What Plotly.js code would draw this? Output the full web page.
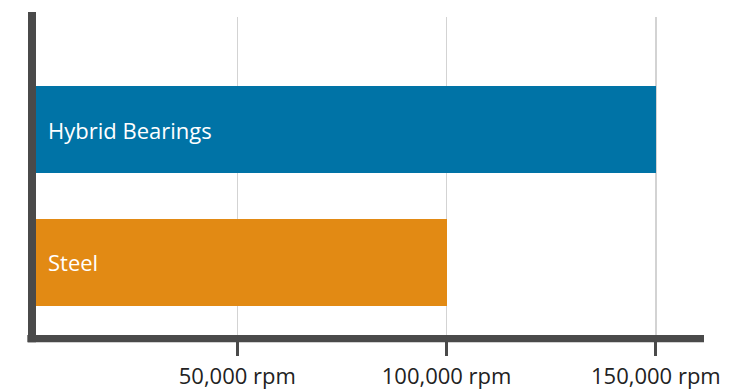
<!DOCTYPE html>
<html>
<head>
<meta charset="utf-8">
<script src="https://cdn.plot.ly/plotly-3.0.1.min.js"></script>
<style>
html,body{margin:0;padding:0;background:#fff;}
#chart{width:741px;height:390px;}
</style>
</head>
<body>
<div id="chart"></div>
<script>
// Data
const categories = ['Hybrid Bearings', 'Steel'];
const speeds = [150000, 100000];
const barColors = ['#0073A6', '#E28A14'];
const tickValues = [50000, 100000, 150000];
const tickLabels = ['50,000 rpm', '100,000 rpm', '150,000 rpm'];

const axisColor = '#4a4a4a';
const fontFamily = '"Open Sans", Lato, sans-serif';

const trace = {
  type: 'bar',
  orientation: 'h',
  x: speeds,
  y: categories,
  width: 0.654,
  marker: {color: barColors, line: {width: 0}},
  hoverinfo: 'none',
  showlegend: false
};

const annotations = categories.map((c) => ({
  x: 0, y: c, xref: 'x', yref: 'y',
  text: c,
  showarrow: false,
  xanchor: 'left', yanchor: 'middle',
  xshift: 18,
  font: {family: fontFamily, size: 22, color: '#ffffff'}
}));

const layout = {
  width: 741, height: 390,
  margin: {l: 28, r: 37, t: 17, b: 55, pad: 0},
  paper_bgcolor: '#ffffff',
  plot_bgcolor: '#ffffff',
  font: {family: fontFamily, color: '#222222'},
  bargap: 0,
  xaxis: {
    range: [0, 161500],
    tickvals: tickValues,
    ticktext: tickLabels,
    ticks: 'outside',
    ticklen: 20,
    tickwidth: 3,
    tickcolor: axisColor,
    ticklabelstandoff: 2,
    showgrid: true,
    gridcolor: '#d3d3d3',
    gridwidth: 1.5,
    zeroline: false,
    showline: false,
    tickfont: {family: fontFamily, size: 22, color: '#222222'},
    fixedrange: true
  },
  yaxis: {
    type: 'category',
    categoryorder: 'array',
    categoryarray: categories.slice().reverse(),
    range: [-0.547, 1.847],
    showticklabels: false,
    showgrid: false,
    zeroline: false,
    showline: false,
    ticks: '',
    fixedrange: true
  },
  shapes: [
    {
      type: 'rect', layer: 'above',
      xref: 'paper', yref: 'paper',
      x0: -0.001, x1: 1, y0: -7.3 / 318, y1: 0,
      fillcolor: axisColor, line: {width: 0}
    },
    {
      type: 'rect', layer: 'above',
      xref: 'x', xsizemode: 'pixel', xanchor: 0, x0: 0, x1: 8,
      yref: 'paper', y0: -7.3 / 318, y1: 1 + 5 / 318,
      fillcolor: axisColor, line: {width: 0}
    }
  ],
  annotations: annotations
};

Plotly.newPlot('chart', [trace], layout, {displayModeBar: false, staticPlot: true});
</script>
</body>
</html>
